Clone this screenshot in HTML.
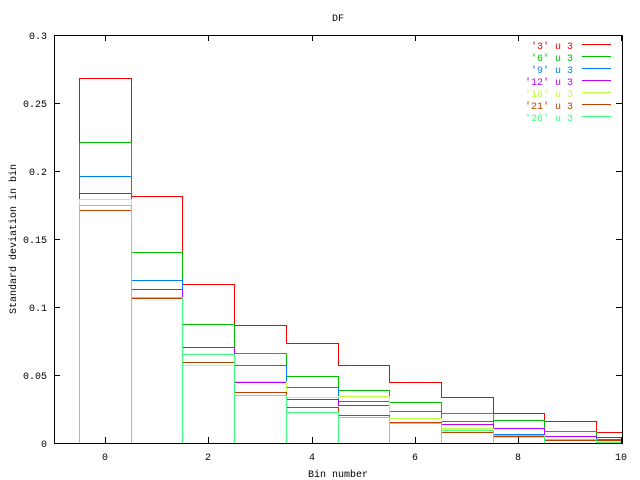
<!DOCTYPE html>
<html><head><meta charset="utf-8"><style>
html,body{margin:0;padding:0;background:#fff;}
svg{display:block;}
text{font-family:"Liberation Mono","DejaVu Sans Mono",monospace;font-size:10px;}
</style></head><body>
<svg width="640" height="480" xmlns="http://www.w3.org/2000/svg">
<rect width="640" height="480" fill="#fff"/>
<g id="series" fill="none" stroke-width="1" shape-rendering="crispEdges"></g>
<g stroke="#000" stroke-width="1" shape-rendering="crispEdges" fill="none">
<rect x="54.5" y="35.5" width="568" height="408"/>
<path d="M54 443.5h6M622 443.5h-6M54 375.5h6M622 375.5h-6M54 307.5h6M622 307.5h-6M54 239.5h6M622 239.5h-6M54 171.5h6M622 171.5h-6M54 103.5h6M622 103.5h-6M54 35.5h6M622 35.5h-6"/>
<path d="M105.5 443v-6M105.5 35v6M208.5 443v-6M208.5 35v6M312.5 443v-6M312.5 35v6M415.5 443v-6M415.5 35v6M518.5 443v-6M518.5 35v6M621.5 443v-6M621.5 35v6"/>
</g>
<g fill="#000" text-anchor="end">
<text x="47" y="447">0</text><text x="47" y="379">0.05</text><text x="47" y="311">0.1</text><text x="47" y="243">0.15</text><text x="47" y="175">0.2</text><text x="47" y="107">0.25</text><text x="47" y="39">0.3</text>
</g>
<g fill="#000" text-anchor="middle">
<text x="105" y="460">0</text><text x="208" y="460">2</text><text x="312" y="460">4</text><text x="415" y="460">6</text><text x="518" y="460">8</text><text x="621" y="460">10</text>
<text x="338" y="477">Bin number</text>
<text x="338" y="21">DF</text>
<text transform="translate(16,239) rotate(-90)">Standard deviation in bin</text>
</g>
<g id="legend" text-anchor="end"></g>
<script>
var edges=[79,131,182,234,286,338,389,441,493,544,596,622];
var S=[
["'3' u 3","#ff0000",[78,196,284,325,343,365,382,397,413,421,432]],
["'6' u 3","#00c000",[142,252,324,353,376,390,402,413,420,431,437]],
["'9' u 3","#0080ff",[176,280,347,365,387,401,411,421,434,436,439]],
["'12' u 3","#c000ff",[193,289,347,382,399,405,418,424,428,436,437]],
["'16' u 3","#c0ff40",[199,297,365,381,397,396,418,428,437,439,441]],
["'21' u 3","#c04000",[210,298,362,392,407,415,422,432,436,440,440]],
["'26' u 3","#40ff80",[205,297,354,395,412,417,423,430,435,439,442]]];
var g=document.getElementById('series'),L=document.getElementById('legend'),ns="http://www.w3.org/2000/svg";
S.forEach(function(s,i){
 var d="M"+(edges[0]+0.5)+" 443";
 for(var k=0;k<11;k++){d+=" V"+(s[2][k]+0.5)+" H"+(edges[k+1]+0.5);}
 if(i==6){for(var k=1;k<11;k++){d+=" M"+(edges[k]+0.5)+" 443 V"+(Math.max(s[2][k-1],s[2][k])+0.5);}}
 var p=document.createElementNS(ns,"path");p.setAttribute("d",d);p.setAttribute("stroke",s[1]);g.appendChild(p);
 var y=46+i*12;
 var t=document.createElementNS(ns,"text");t.setAttribute("x",573);t.setAttribute("y",y+3);t.setAttribute("fill",s[1]);t.textContent=s[0];L.appendChild(t);
 var l=document.createElementNS(ns,"path");l.setAttribute("d","M582 "+(y-1.5)+"H611");l.setAttribute("stroke",s[1]);l.setAttribute("shape-rendering","crispEdges");L.appendChild(l);
});
</script>
</svg>
</body></html>
